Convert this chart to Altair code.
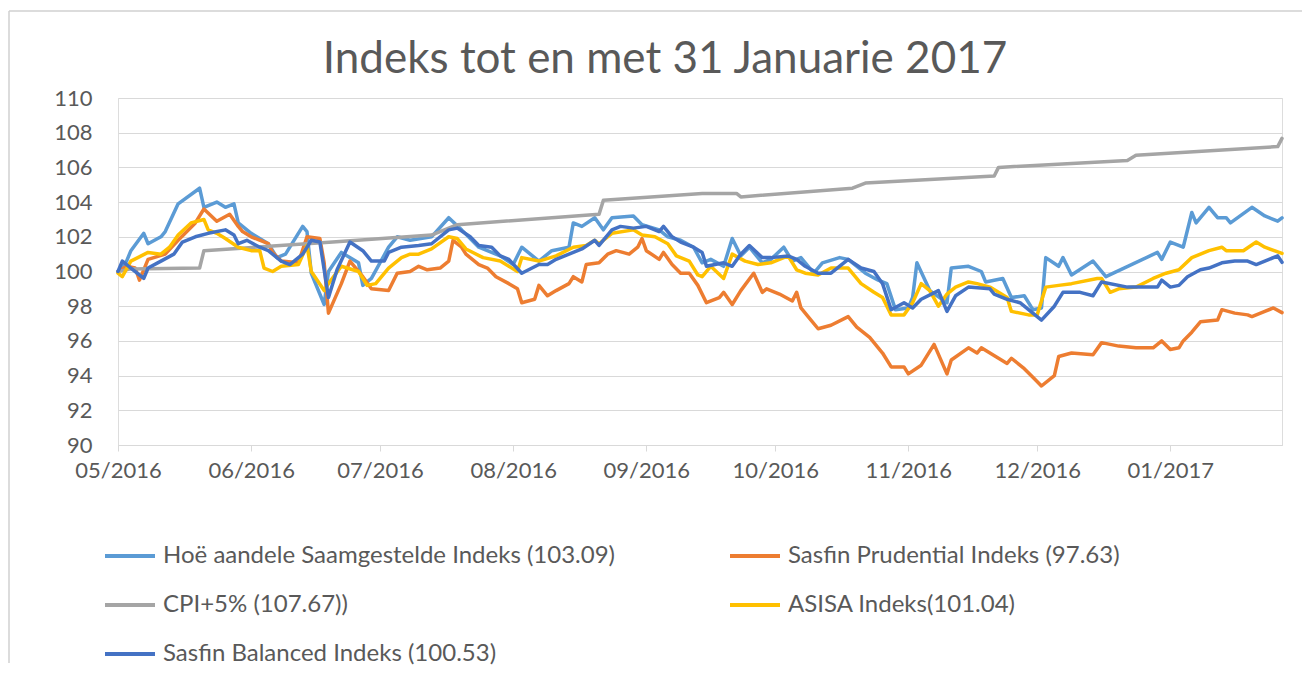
import altair as alt
import pandas as pd

TITLE = "Indeks tot en met 31 Januarie 2017"
START = "2016-05-01"
SERIES = [
    "Hoë aandele Saamgestelde Indeks (103.09)",
    "Sasfin Prudential Indeks (97.63)",
    "CPI+5% (107.67))",
    "ASISA Indeks(101.04)",
    "Sasfin Balanced Indeks (100.53)",
]
COLORS = ["#5B9BD5", "#ED7D31", "#A5A5A5", "#FFC000", "#4472C4"]
# legend reading order (two columns, filled column by column)
LEGEND_ORDER = [0, 2, 4, 1, 3]
Y_TICKS = [90, 92, 94, 96, 98, 100, 102, 104, 106, 108, 110]
MONTHS = [(2016, 5), (2016, 6), (2016, 7), (2016, 8), (2016, 9), (2016, 10),
          (2016, 11), (2016, 12), (2017, 1)]

# day offsets from 2016-05-01 and index values
hoe_days = [0, 2, 3, 6, 7, 10, 11, 14, 19, 20, 23, 25, 27, 28, 31, 35, 37, 39, 43, 44,
            45, 48, 49, 52, 56, 57, 59, 63, 65, 68, 73, 77, 80, 84, 89, 92, 94, 98, 101, 105,
            106, 108, 111, 113, 115, 120, 122, 126, 128, 131, 134, 136, 138, 141, 143, 145, 147, 150, 152, 155,
            157, 159, 162, 164, 168, 170, 174, 177, 179, 181, 184, 185, 186, 189, 193, 194, 198, 201, 202, 206,
            208, 211, 213, 215, 216, 219, 220, 222, 227, 230, 242, 243, 245, 248, 250, 251, 254, 256, 258, 259,
            264, 267, 270, 271]
hoe_vals = [100.0, 100.6, 101.2, 102.2, 101.6, 102.0, 102.3, 103.9, 104.8, 103.7,
            104.0, 103.7, 103.9, 102.8, 102.2, 101.6, 100.8, 101.0, 102.6, 102.3,
            99.9, 98.1, 100.0, 101.1, 100.5, 99.2, 99.6, 101.4, 102.0, 101.8,
            102.0, 103.1, 102.4, 101.4, 100.9, 100.4, 101.4, 100.6, 101.2, 101.4,
            102.8, 102.6, 103.1, 102.4, 103.1, 103.2, 102.7, 102.4, 102.0, 101.8,
            101.4, 100.5, 100.7, 100.3, 101.9, 100.9, 101.4, 100.5, 100.7, 101.4,
            100.6, 100.8, 99.9, 100.5, 100.8, 100.7, 99.9, 99.5, 99.3, 97.8,
            97.9, 98.5, 100.5, 98.9, 98.2, 100.2, 100.3, 100.0, 99.4, 99.6,
            98.5, 98.6, 97.8, 97.9, 100.8, 100.3, 100.8, 99.8, 100.6, 99.7,
            101.1, 100.7, 101.7, 101.4, 103.4, 102.8, 103.7, 103.1, 103.1, 102.8,
            103.7, 103.2, 102.9, 103.09]

pru_days = [0, 2, 4, 5, 7, 11, 14, 18, 20, 23, 26, 28, 29, 31, 35, 36, 38, 42, 44, 47,
            48, 49, 52, 54, 57, 59, 63, 65, 68, 70, 72, 75, 77, 78, 80, 81, 84, 86, 88, 91,
            93, 94, 97, 98, 100, 102, 105, 106, 108, 109, 112, 114, 116, 119, 121, 122, 123, 126, 127, 129,
            131, 133, 135, 137, 140, 141, 143, 145, 148, 150, 151, 154, 157, 158, 159, 161, 163, 166, 170, 172,
            175, 178, 180, 183, 184, 187, 190, 193, 194, 198, 200, 201, 205, 207, 208, 211, 213, 215, 218, 219,
            222, 227, 229, 233, 237, 241, 243, 245, 247, 248, 250, 252, 256, 257, 260, 263, 264, 267, 269, 271]
pru_vals = [100.0, 100.3, 100.2, 99.5, 100.7, 101.0, 101.8, 102.8, 103.6, 102.9,
            103.3, 102.6, 102.3, 102.0, 101.6, 101.1, 100.6, 100.5, 102.0, 101.9,
            100.5, 97.6, 99.3, 100.6, 99.7, 99.0, 98.9, 99.9, 100.0, 100.3,
            100.1, 100.2, 100.6, 101.8, 101.4, 101.0, 100.4, 100.2, 99.7, 99.3,
            99.0, 98.2, 98.4, 99.2, 98.6, 98.9, 99.3, 99.7, 99.4, 100.4,
            100.5, 101.0, 101.2, 101.0, 101.4, 101.9, 101.2, 100.7, 101.1, 100.4,
            99.9, 99.9, 99.2, 98.2, 98.5, 98.8, 98.1, 98.9, 99.9, 98.8,
            99.0, 98.7, 98.3, 98.8, 97.9, 97.3, 96.7, 96.9, 97.4, 96.8,
            96.2, 95.3, 94.5, 94.5, 94.1, 94.6, 95.8, 94.1, 94.9, 95.6,
            95.3, 95.6, 95.0, 94.7, 95.0, 94.4, 93.9, 93.4, 94.0, 95.1,
            95.3, 95.2, 95.9, 95.7, 95.6, 95.6, 96.0, 95.5, 95.6, 96.0,
            96.5, 97.1, 97.2, 97.8, 97.6, 97.5, 97.4, 97.7, 97.9, 97.63]

cpi_days = [0, 3, 19, 20, 50, 73, 79, 112, 113, 136, 144, 145, 171, 174, 204, 205, 235, 237, 270, 271]
cpi_vals = [100.0, 100.15, 100.2, 101.2, 101.7, 102.1, 102.7, 103.3, 104.1, 104.5,
            104.5, 104.3, 104.8, 105.1, 105.5, 106.0, 106.4, 106.7, 107.2, 107.67]

asisa_days = [0, 1, 3, 7, 10, 12, 14, 17, 20, 21, 23, 25, 28, 31, 33, 34, 36, 38, 42, 44,
              45, 48, 49, 52, 56, 58, 60, 63, 66, 68, 70, 73, 77, 79, 81, 85, 89, 93, 94, 98,
              102, 106, 109, 111, 112, 115, 120, 122, 125, 128, 130, 133, 135, 136, 138, 141, 143, 146, 149, 152,
              156, 158, 160, 163, 166, 170, 173, 176, 178, 180, 183, 185, 187, 189, 191, 193, 195, 198, 200, 203,
              205, 207, 208, 212, 214, 216, 219, 222, 228, 229, 231, 233, 237, 241, 244, 247, 250, 254, 257, 258,
              262, 265, 267, 271]
asisa_vals = [99.9, 99.7, 100.6, 101.1, 101.0, 101.4, 102.1, 102.8, 103.0, 102.4,
              102.2, 101.9, 101.4, 101.2, 101.2, 100.2, 100.0, 100.3, 100.4, 101.5,
              100.0, 98.9, 99.3, 100.3, 100.0, 99.2, 99.3, 100.2, 100.8, 101.0,
              101.0, 101.3, 102.0, 101.9, 101.3, 100.8, 100.6, 100.0, 100.8, 100.6,
              100.9, 101.4, 101.5, 101.8, 101.6, 102.2, 102.4, 102.1, 102.0, 101.6,
              100.9, 100.6, 99.8, 99.7, 100.3, 99.6, 101.0, 100.6, 100.4, 100.5,
              100.9, 100.1, 99.9, 99.8, 100.2, 100.2, 99.3, 98.8, 98.5, 97.5,
              97.5, 98.2, 99.3, 98.9, 98.0, 98.7, 99.1, 99.4, 99.3, 99.1,
              98.8, 98.5, 97.7, 97.5, 97.5, 99.1, 99.2, 99.3, 99.6, 99.6,
              98.8, 99.0, 99.1, 99.6, 99.9, 100.1, 100.8, 101.2, 101.4, 101.2,
              101.2, 101.7, 101.4, 101.04]

bal_days = [0, 1, 3, 6, 7, 10, 13, 15, 18, 21, 25, 27, 28, 30, 33, 35, 38, 40, 43, 45,
            47, 49, 51, 54, 57, 59, 62, 63, 66, 70, 73, 77, 79, 82, 84, 87, 89, 91, 94, 98,
            100, 102, 105, 108, 111, 112, 115, 117, 120, 123, 126, 127, 129, 131, 134, 136, 137, 141, 143, 145,
            147, 150, 152, 156, 158, 160, 163, 166, 170, 173, 176, 178, 180, 183, 185, 187, 191, 193, 195, 198,
            203, 204, 207, 210, 213, 215, 218, 220, 224, 227, 229, 235, 242, 243, 245, 247, 249, 252, 254, 257,
            260, 263, 265, 268, 270, 271]
bal_vals = [100.0, 100.6, 100.2, 99.6, 100.2, 100.6, 101.0, 101.7, 102.0, 102.2,
            102.4, 102.1, 101.6, 101.8, 101.4, 101.2, 100.6, 100.4, 101.0, 101.8,
            101.7, 98.5, 100.1, 101.7, 101.2, 100.6, 100.6, 101.1, 101.4, 101.5,
            101.6, 102.4, 102.5, 102.0, 101.5, 101.4, 100.9, 100.7, 99.9, 100.4,
            100.4, 100.7, 101.0, 101.3, 101.8, 101.5, 102.4, 102.6, 102.5, 102.6,
            102.3, 102.6, 102.0, 101.7, 101.4, 101.1, 100.3, 100.5, 100.3, 101.0,
            101.5, 100.8, 100.8, 100.9, 100.7, 100.3, 99.9, 99.9, 100.7, 100.2,
            100.0, 99.3, 97.8, 98.2, 97.9, 98.4, 98.9, 97.7, 98.6, 99.1,
            99.0, 98.7, 98.4, 98.2, 97.6, 97.2, 98.0, 98.8, 98.8, 98.6,
            99.4, 99.1, 99.1, 99.5, 99.1, 99.2, 99.7, 100.1, 100.2, 100.5,
            100.6, 100.6, 100.4, 100.7, 100.9, 100.53]

all_days = [hoe_days, pru_days, cpi_days, asisa_days, bal_days]
all_vals = [hoe_vals, pru_vals, cpi_vals, asisa_vals, bal_vals]

start = pd.Timestamp(START)
rows = []
for name, days, vals in zip(SERIES, all_days, all_vals):
    for d, v in zip(days, vals):
        rows.append({"series": name,
                     "date": (start + pd.Timedelta(days=d)).strftime("%Y-%m-%d"),
                     "value": v})
df = pd.DataFrame(rows)

FONT = "Lato"
TEXT = "#595959"
GRID = "#D9D9D9"
FRAME = "#D0D0D0"

legend_domain = [SERIES[i] for i in LEGEND_ORDER]
legend_range = [COLORS[i] for i in LEGEND_ORDER]

x_enc = alt.X(
    "date:T",
    scale=alt.Scale(type="utc", domain=[alt.DateTime(year=2016, month=5, date=1, utc=True),
                                        alt.DateTime(year=2017, month=1, date=27, utc=True)]),
    axis=alt.Axis(title=None, format="%m/%Y",
                  values=[alt.DateTime(year=yy, month=mm, date=1, utc=True) for yy, mm in MONTHS],
                  grid=False, domainColor=GRID, domainWidth=1, tickColor=GRID, tickSize=6,
                  labelFont=FONT, labelFontSize=22, labelColor=TEXT, labelPadding=9,
                  labelAlign="center"),
)
y_enc = alt.Y(
    "value:Q",
    scale=alt.Scale(domain=[90, 110], nice=False, zero=False),
    axis=alt.Axis(title=None, values=Y_TICKS, grid=True, gridColor=GRID, gridWidth=1,
                  domain=False, ticks=False, labelFont=FONT, labelFontSize=22,
                  labelColor=TEXT, labelPadding=26),
)
color_enc = alt.Color(
    "series:N",
    scale=alt.Scale(domain=legend_domain, range=legend_range),
    sort=legend_domain,
    legend=alt.Legend(title=None, orient="none", legendX=-15, legendY=431, columns=2,
                      columnPadding=106, rowPadding=10, symbolType="stroke",
                      symbolSize=2500, symbolStrokeWidth=4, labelFont=FONT,
                      labelFontSize=24, labelColor=TEXT, labelOffset=6, labelLimit=0,
                      padding=0),
)

# chart-area frame edges (decoration only), kept inside the drawing surface
frame_src = pd.DataFrame({"frame": [0]})
frame_top = alt.Chart(frame_src).mark_rule(color=FRAME, strokeWidth=1.5, clip=False).encode(
    x=alt.value(-109), x2=alt.value(1184), y=alt.value(-87))
frame_left = alt.Chart(frame_src).mark_rule(color=FRAME, strokeWidth=1.5, clip=False).encode(
    x=alt.value(-109), y=alt.value(-87), y2=alt.value(565))

layers = [frame_top, frame_left]
for name in SERIES:
    layers.append(
        alt.Chart(df).transform_filter(alt.datum.series == name)
        .mark_line(strokeWidth=3.5, strokeJoin="round", strokeCap="round")
        .encode(x=x_enc, y=y_enc, color=color_enc)
    )

chart = alt.layer(*layers).properties(
    width=1164,
    height=347,
    title=alt.TitleParams(text=TITLE, font=FONT, fontSize=44, fontWeight="normal",
                          color=TEXT, anchor="middle", frame="group", offset=5,
                          dx=-35, dy=77),
    autosize=alt.AutoSizeParams(type="none"),
    padding={"left": 110, "top": 90, "right": 22, "bottom": 220},
).configure_view(stroke=None).configure(background="white")

chart.save("out.html", embed_options={"renderer": "svg", "actions": False})
